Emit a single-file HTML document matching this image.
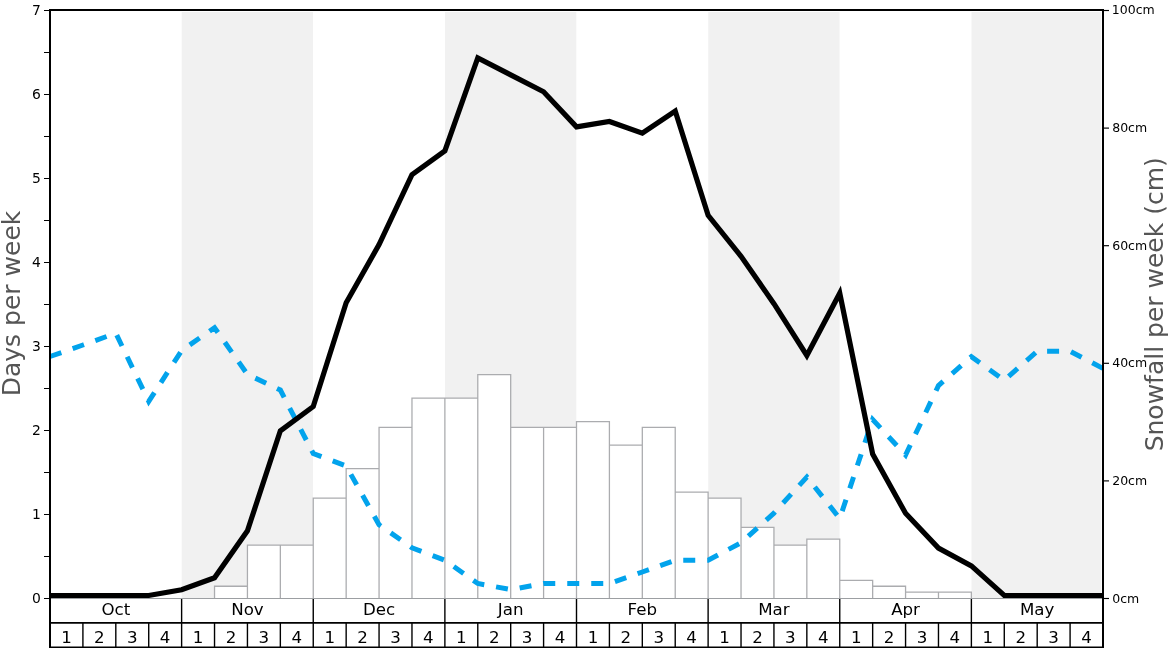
<!DOCTYPE html>
<html lang="en"><head><meta charset="utf-8"><title>Snow history chart</title>
<style>html,body{margin:0;padding:0;background:#fff}body{width:1168px;height:648px;overflow:hidden}svg{display:block;will-change:transform}text{font-family:"DejaVu Sans","Liberation Sans",sans-serif;fill:#000}</style>
</head><body>
<svg width="1168" height="648" viewBox="0 0 1168 648">
<rect x="0" y="0" width="1168" height="648" fill="#ffffff"/>
<g fill="#f1f1f1">
<rect x="181.72" y="12" width="131.33" height="586.5"/>
<rect x="444.98" y="12" width="131.32" height="586.5"/>
<rect x="708.23" y="12" width="131.32" height="586.5"/>
<rect x="971.48" y="12" width="129.73" height="586.5"/>
</g>
<g fill="#ffffff" stroke="none">
<rect x="214.53" y="586.24" width="32.91" height="11.76"/>
<rect x="247.44" y="545.08" width="32.91" height="52.92"/>
<rect x="280.34" y="545.08" width="32.91" height="52.92"/>
<rect x="313.25" y="498.04" width="32.91" height="99.96"/>
<rect x="346.16" y="468.64" width="32.91" height="129.36"/>
<rect x="379.06" y="427.48" width="32.91" height="170.52"/>
<rect x="411.97" y="398.08" width="32.91" height="199.92"/>
<rect x="444.88" y="398.08" width="32.91" height="199.92"/>
<rect x="477.78" y="374.56" width="32.91" height="223.44"/>
<rect x="510.69" y="427.48" width="32.91" height="170.52"/>
<rect x="543.59" y="427.48" width="32.91" height="170.52"/>
<rect x="576.50" y="421.60" width="32.91" height="176.40"/>
<rect x="609.41" y="445.12" width="32.91" height="152.88"/>
<rect x="642.31" y="427.48" width="32.91" height="170.52"/>
<rect x="675.22" y="492.16" width="32.91" height="105.84"/>
<rect x="708.12" y="498.04" width="32.91" height="99.96"/>
<rect x="741.03" y="527.44" width="32.91" height="70.56"/>
<rect x="773.94" y="545.08" width="32.91" height="52.92"/>
<rect x="806.84" y="539.20" width="32.91" height="58.80"/>
<rect x="839.75" y="580.36" width="32.91" height="17.64"/>
<rect x="872.66" y="586.24" width="32.91" height="11.76"/>
<rect x="905.56" y="592.12" width="32.91" height="5.88"/>
<rect x="938.47" y="592.12" width="32.91" height="5.88"/>
</g>
<path d="M214.53 598V586.24M247.44 598V545.08M280.34 598V545.08M313.25 598V498.04M346.16 598V468.64M379.06 598V427.48M411.97 598V398.08M444.88 598V398.08M477.78 598V374.56M510.69 598V374.56M543.59 598V427.48M576.50 598V421.60M609.41 598V421.60M642.31 598V427.48M675.22 598V427.48M708.12 598V492.16M741.03 598V498.04M773.94 598V527.44M806.84 598V539.20M839.75 598V539.20M872.66 598V580.36M905.56 598V586.24M938.47 598V592.12M971.38 598V592.12M214.53 586.24H247.44M247.44 545.08H280.34M280.34 545.08H313.25M313.25 498.04H346.16M346.16 468.64H379.06M379.06 427.48H411.97M411.97 398.08H444.88M444.88 398.08H477.78M477.78 374.56H510.69M510.69 427.48H543.59M543.59 427.48H576.50M576.50 421.60H609.41M609.41 445.12H642.31M642.31 427.48H675.22M675.22 492.16H708.12M708.12 498.04H741.03M741.03 527.44H773.94M773.94 545.08H806.84M806.84 539.20H839.75M839.75 580.36H872.66M872.66 586.24H905.56M905.56 592.12H938.47M938.47 592.12H971.38" fill="none" stroke="#abacaf" stroke-width="1.28" stroke-linecap="square"/>
<line x1="50.00" y1="598.5" x2="1103.00" y2="598.5" stroke="#9c9fa2" stroke-width="1"/>
<polyline points="50.00,356.50 82.91,345.00 115.81,333.20 148.72,401.40 181.62,350.60 214.53,327.70 247.44,374.40 280.34,390.00 313.25,453.50 346.16,466.00 379.06,524.70 411.97,547.80 444.88,560.20 477.78,583.50 510.69,589.60 543.59,583.50 576.50,583.50 609.41,583.50 642.31,572.00 675.22,560.20 708.12,560.20 741.03,542.70 773.94,513.10 806.84,477.00 839.75,518.50 872.66,419.50 905.56,455.00 938.47,385.60 971.38,356.60 1004.28,380.30 1037.19,351.20 1070.09,351.20 1103.00,368.40" fill="none" stroke="#02a3ec" stroke-width="5" stroke-dasharray="12 12" stroke-linejoin="miter"/>
<polyline points="50.00,595.50 82.91,595.50 115.81,595.50 148.72,595.50 181.62,589.80 214.53,577.80 247.44,530.80 280.34,430.80 313.25,406.50 346.16,302.80 379.06,244.60 411.97,174.70 444.88,150.80 477.78,58.00 510.69,74.90 543.59,91.80 576.50,126.90 609.41,121.50 642.31,133.10 675.22,111.00 708.12,215.30 741.03,256.30 773.94,303.70 806.84,355.50 839.75,293.20 872.66,454.00 905.56,513.30 938.47,548.10 971.38,565.90 1004.28,595.50 1037.19,595.50 1070.09,595.50 1103.00,595.50" fill="none" stroke="#000" stroke-width="5.2" stroke-linejoin="miter" stroke-miterlimit="10"/>
<g stroke="#000" stroke-width="2" fill="none">
<path d="M50.0 648 V10.0 H1103.0 V648"/>
</g>
<g stroke="#000" fill="none">
<line x1="50.0" y1="622.95" x2="1103.0" y2="622.95" stroke-width="1.7"/>
<line x1="50.0" y1="647.4" x2="1103.0" y2="647.4" stroke-width="1.7"/>
<line x1="82.91" y1="622.7" x2="82.91" y2="648" stroke-width="1.4"/>
<line x1="115.81" y1="622.7" x2="115.81" y2="648" stroke-width="1.4"/>
<line x1="148.72" y1="622.7" x2="148.72" y2="648" stroke-width="1.4"/>
<line x1="181.62" y1="599" x2="181.62" y2="648" stroke-width="1.4"/>
<line x1="214.53" y1="622.7" x2="214.53" y2="648" stroke-width="1.4"/>
<line x1="247.44" y1="622.7" x2="247.44" y2="648" stroke-width="1.4"/>
<line x1="280.34" y1="622.7" x2="280.34" y2="648" stroke-width="1.4"/>
<line x1="313.25" y1="599" x2="313.25" y2="648" stroke-width="1.4"/>
<line x1="346.16" y1="622.7" x2="346.16" y2="648" stroke-width="1.4"/>
<line x1="379.06" y1="622.7" x2="379.06" y2="648" stroke-width="1.4"/>
<line x1="411.97" y1="622.7" x2="411.97" y2="648" stroke-width="1.4"/>
<line x1="444.88" y1="599" x2="444.88" y2="648" stroke-width="1.4"/>
<line x1="477.78" y1="622.7" x2="477.78" y2="648" stroke-width="1.4"/>
<line x1="510.69" y1="622.7" x2="510.69" y2="648" stroke-width="1.4"/>
<line x1="543.59" y1="622.7" x2="543.59" y2="648" stroke-width="1.4"/>
<line x1="576.50" y1="599" x2="576.50" y2="648" stroke-width="1.4"/>
<line x1="609.41" y1="622.7" x2="609.41" y2="648" stroke-width="1.4"/>
<line x1="642.31" y1="622.7" x2="642.31" y2="648" stroke-width="1.4"/>
<line x1="675.22" y1="622.7" x2="675.22" y2="648" stroke-width="1.4"/>
<line x1="708.12" y1="599" x2="708.12" y2="648" stroke-width="1.4"/>
<line x1="741.03" y1="622.7" x2="741.03" y2="648" stroke-width="1.4"/>
<line x1="773.94" y1="622.7" x2="773.94" y2="648" stroke-width="1.4"/>
<line x1="806.84" y1="622.7" x2="806.84" y2="648" stroke-width="1.4"/>
<line x1="839.75" y1="599" x2="839.75" y2="648" stroke-width="1.4"/>
<line x1="872.66" y1="622.7" x2="872.66" y2="648" stroke-width="1.4"/>
<line x1="905.56" y1="622.7" x2="905.56" y2="648" stroke-width="1.4"/>
<line x1="938.47" y1="622.7" x2="938.47" y2="648" stroke-width="1.4"/>
<line x1="971.38" y1="599" x2="971.38" y2="648" stroke-width="1.4"/>
<line x1="1004.28" y1="622.7" x2="1004.28" y2="648" stroke-width="1.4"/>
<line x1="1037.19" y1="622.7" x2="1037.19" y2="648" stroke-width="1.4"/>
<line x1="1070.09" y1="622.7" x2="1070.09" y2="648" stroke-width="1.4"/>
</g>
<g stroke="#000" stroke-width="1">
<line x1="44" y1="598.5" x2="49" y2="598.5"/>
<line x1="44" y1="556.5" x2="49" y2="556.5"/>
<line x1="44" y1="514.5" x2="49" y2="514.5"/>
<line x1="44" y1="472.5" x2="49" y2="472.5"/>
<line x1="44" y1="430.5" x2="49" y2="430.5"/>
<line x1="44" y1="388.5" x2="49" y2="388.5"/>
<line x1="44" y1="346.5" x2="49" y2="346.5"/>
<line x1="44" y1="304.5" x2="49" y2="304.5"/>
<line x1="44" y1="262.5" x2="49" y2="262.5"/>
<line x1="44" y1="220.5" x2="49" y2="220.5"/>
<line x1="44" y1="178.5" x2="49" y2="178.5"/>
<line x1="44" y1="136.5" x2="49" y2="136.5"/>
<line x1="44" y1="94.5" x2="49" y2="94.5"/>
<line x1="44" y1="52.5" x2="49" y2="52.5"/>
<line x1="44" y1="10.5" x2="49" y2="10.5"/>
<line x1="1104" y1="598.50" x2="1109" y2="598.50" stroke-width="1.15"/>
<line x1="1104" y1="480.90" x2="1109" y2="480.90" stroke-width="1.15"/>
<line x1="1104" y1="363.30" x2="1109" y2="363.30" stroke-width="1.15"/>
<line x1="1104" y1="245.70" x2="1109" y2="245.70" stroke-width="1.15"/>
<line x1="1104" y1="128.10" x2="1109" y2="128.10" stroke-width="1.15"/>
<line x1="1104" y1="10.50" x2="1109" y2="10.50" stroke-width="1.15"/>
</g>
<g font-size="13.9" text-anchor="end">
<text x="40.8" y="603.20">0</text>
<text x="40.8" y="519.20">1</text>
<text x="40.8" y="435.20">2</text>
<text x="40.8" y="351.20">3</text>
<text x="40.8" y="267.20">4</text>
<text x="40.8" y="183.20">5</text>
<text x="40.8" y="99.20">6</text>
<text x="40.8" y="15.20">7</text>
</g>
<g font-size="12.5" text-anchor="start">
<text x="1112.2" y="602.60">0cm</text>
<text x="1112.2" y="485.00">20cm</text>
<text x="1112.2" y="367.40">40cm</text>
<text x="1112.2" y="249.80">60cm</text>
<text x="1112.2" y="132.20">80cm</text>
<text x="1111.8" y="13.80">100cm</text>
</g>
<g font-size="16.67" text-anchor="middle">
<text x="115.81" y="615.1">Oct</text>
<text x="247.44" y="615.1">Nov</text>
<text x="379.06" y="615.1">Dec</text>
<text x="510.69" y="615.1">Jan</text>
<text x="642.31" y="615.1">Feb</text>
<text x="773.94" y="615.1">Mar</text>
<text x="905.56" y="615.1">Apr</text>
<text x="1037.19" y="615.1">May</text>
</g>
<g font-size="16.67" text-anchor="middle">
<text x="66.45" y="643">1</text>
<text x="99.36" y="643">2</text>
<text x="132.27" y="643">3</text>
<text x="165.17" y="643">4</text>
<text x="198.08" y="643">1</text>
<text x="230.98" y="643">2</text>
<text x="263.89" y="643">3</text>
<text x="296.80" y="643">4</text>
<text x="329.70" y="643">1</text>
<text x="362.61" y="643">2</text>
<text x="395.52" y="643">3</text>
<text x="428.42" y="643">4</text>
<text x="461.33" y="643">1</text>
<text x="494.23" y="643">2</text>
<text x="527.14" y="643">3</text>
<text x="560.05" y="643">4</text>
<text x="592.95" y="643">1</text>
<text x="625.86" y="643">2</text>
<text x="658.77" y="643">3</text>
<text x="691.67" y="643">4</text>
<text x="724.58" y="643">1</text>
<text x="757.48" y="643">2</text>
<text x="790.39" y="643">3</text>
<text x="823.30" y="643">4</text>
<text x="856.20" y="643">1</text>
<text x="889.11" y="643">2</text>
<text x="922.02" y="643">3</text>
<text x="954.92" y="643">4</text>
<text x="987.83" y="643">1</text>
<text x="1020.73" y="643">2</text>
<text x="1053.64" y="643">3</text>
<text x="1086.55" y="643">4</text>
</g>
<text transform="translate(20.4 303.5) rotate(-90)" font-size="25" text-anchor="middle" style="fill:#555555">Days per week</text>
<text transform="translate(1162.6 304.3) rotate(-90)" font-size="25" text-anchor="middle" style="fill:#555555">Snowfall per week (cm)</text>
</svg>
</body></html>
